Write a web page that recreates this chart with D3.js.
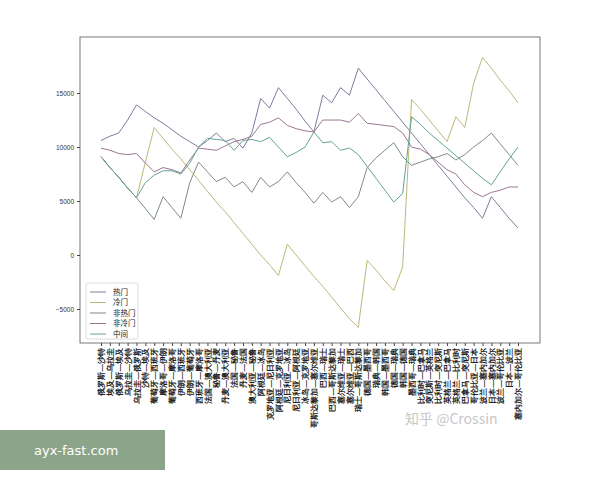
<!DOCTYPE html>
<html>
<head>
<meta charset="utf-8">
<script src="https://cdn.jsdelivr.net/npm/d3@7"></script>
<style>
  body { margin: 0; background: #fff; font-family: "Noto Sans CJK SC", "DejaVu Sans", sans-serif; }
</style>
</head>
<body>
<div id="container"></div>
<script>
var matches = ["俄罗斯—沙特", "埃及—乌拉圭", "俄罗斯—埃及", "乌拉圭—沙特", "乌拉圭—俄罗斯", "沙特—埃及",
    "葡萄牙—西班牙", "摩洛哥—伊朗", "葡萄牙—摩洛哥", "伊朗—西班牙", "伊朗—葡萄牙", "西班牙—摩洛哥",
    "法国—澳大利亚", "秘鲁—丹麦", "丹麦—澳大利亚", "法国—秘鲁", "丹麦—法国", "澳大利亚—秘鲁",
    "阿根廷—冰岛", "克罗地亚—尼日利亚", "阿根廷—克罗地亚", "尼日利亚—冰岛", "尼日利亚—阿根廷", "冰岛—克罗地亚",
    "哥斯达黎加—塞尔维亚", "巴西—瑞士", "巴西—哥斯达黎加", "塞尔维亚—瑞士", "塞尔维亚—巴西", "瑞士—哥斯达黎加",
    "德国—墨西哥", "瑞典—韩国", "韩国—墨西哥", "德国—瑞典", "韩国—德国", "墨西哥—瑞典",
    "比利时—巴拿马", "突尼斯—英格兰", "比利时—突尼斯", "英格兰—巴拿马", "英格兰—比利时", "巴拿马—突尼斯",
    "哥伦比亚—日本", "波兰—塞内加尔", "日本—塞内加尔", "波兰—哥伦比亚", "日本—波兰", "塞内加尔—哥伦比亚"];

var seriesNames = ["热门", "冷门", "非热门", "非冷门", "中间"];
var seriesColors = ["#7d7c9c", "#bdb878", "#7d8c8a", "#9c7592", "#62a397"];

var hot = [10600, 11000, 11300, 12500, 13900, 13300, 12700, 12200, 11600, 11000, 10500, 10000,
    10600, 11300, 10500, 10800, 9900, 11300, 14500, 13600, 15500, 14500, 13500, 12400,
    11400, 14800, 14100, 15500, 14800, 17300, 16300, 15300, 14300, 13300, 12300, 11300,
    10300, 9300, 8300, 7300, 6300, 5300, 4400, 3400, 5400, 4400, 3400, 2500];
var cold = [9100, 8100, 7200, 6200, 5300, 8600, 11800, 10800, 9800, 8900, 7900, 6900,
    5900, 4900, 4000, 3000, 2000, 1000, 0, -900, -1900, 1000, 0, -1000,
    -2000, -2900, -3900, -4900, -5900, -6700, -500, -1400, -2400, -3300, -1100, 14400,
    13500, 12500, 11500, 10500, 12800, 11800, 15900, 18300, 17300, 16200, 15200, 14100];
var notHot = [9100, 8100, 7200, 6200, 5300, 4300, 3300, 5400, 4400, 3400, 6700, 8600,
    7700, 6800, 7200, 6300, 6800, 5800, 7200, 6300, 6800, 7700, 6700, 5800,
    4800, 5800, 4900, 5400, 4400, 5400, 8100, 9000, 9700, 10400, 9100, 8300,
    8600, 8900, 9100, 9400, 8800, 9300, 10000, 10600, 11300, 10300, 9300, 8300];
var notCold = [9900, 9700, 9400, 9300, 9400, 8500, 7700, 8100, 7900, 7600, 8800, 9900,
    9800, 9700, 10100, 10500, 10700, 11000, 12100, 12300, 12700, 12000, 11700, 11500,
    11400, 12500, 12500, 12500, 12300, 13100, 12200, 12100, 12000, 11900, 11300, 10000,
    9800, 9300, 8600, 7900, 7500, 6500, 5800, 5400, 5800, 6000, 6300, 6300];
var middle = [9100, 8100, 7200, 6200, 5300, 6700, 7400, 7800, 7800, 7500, 8500, 10000,
    10800, 10700, 10600, 9700, 10600, 10700, 10500, 10900, 10000, 9100, 9500, 10000,
    11400, 10400, 10500, 9700, 9900, 9300, 8200, 7100, 6000, 4900, 5700, 12800,
    12100, 11300, 10600, 9900, 9200, 8500, 7800, 7100, 6500, 7700, 8900, 10000];
var yTicks = [-5000, 0, 5000, 10000, 15000];

var allSeries = [hot, cold, notHot, notCold, middle];
var width = 600, height = 480;
var plotLeft = 80, plotRight = 540, plotTop = 37, plotBottom = 343;

var svg = d3.select("#container").append("svg")
    .attr("width", width)
    .attr("height", height);

var x = d3.scalePoint().domain(matches).range([101, 518]);
var y = d3.scaleLinear().domain([-8150, 20190]).range([plotBottom, plotTop]);

// frame
svg.append("rect")
    .attr("x", plotLeft).attr("y", plotTop)
    .attr("width", plotRight - plotLeft).attr("height", plotBottom - plotTop)
    .attr("fill", "none").attr("stroke", "#555").attr("stroke-width", 0.8);

var yAxis = svg.append("g")
    .attr("transform", "translate(" + plotLeft + ",0)")
    .call(d3.axisLeft(y).tickValues(yTicks).tickSize(3).tickFormat(d3.format("d")));
yAxis.select(".domain").remove();
yAxis.selectAll("text").attr("font-size", 6.5).attr("fill", "#333");
yAxis.selectAll("line").attr("stroke", "#444");

var xAxis = svg.append("g")
    .attr("transform", "translate(0," + plotBottom + ")")
    .call(d3.axisBottom(x).tickSize(3));
xAxis.select(".domain").remove();
xAxis.selectAll("line").attr("stroke", "#444");
xAxis.selectAll("text")
    .attr("font-size", 7.5).attr("fill", "#222").attr("font-weight", "bold")
    .attr("text-anchor", "end")
    .attr("dx", 0).attr("dy", "0.35em")
    .attr("transform", "translate(0,5) rotate(-90)")
    .attr("x", 0).attr("y", 0);

var line = d3.line()
    .x(function (d, i) { return x(matches[i]); })
    .y(function (d) { return y(d); });

allSeries.forEach(function (s, k) {
    svg.append("path")
        .datum(s)
        .attr("d", line)
        .attr("fill", "none")
        .attr("stroke", seriesColors[k])
        .attr("stroke-width", 1);
});

// legend
var legend = svg.append("g").attr("transform", "translate(86,283)");
legend.append("rect")
    .attr("width", 52).attr("height", 56)
    .attr("fill", "#fff").attr("stroke", "#ddd").attr("rx", 2);
seriesNames.forEach(function (name, k) {
    var g = legend.append("g").attr("transform", "translate(0," + (9 + k * 10.5) + ")");
    g.append("line").attr("x1", 4).attr("x2", 20)
        .attr("stroke", seriesColors[k]).attr("stroke-width", 1);
    g.append("text").attr("x", 27).attr("dy", "0.35em")
        .attr("font-size", 7.5).attr("fill", "#222").text(name);
});

// watermarks
svg.append("text").attr("x", 405).attr("y", 424)
    .attr("font-size", 14).attr("fill", "#c8c8c8").text("知乎 @Crossin");
svg.append("rect").attr("x", 0).attr("y", 430).attr("width", 165).attr("height", 40)
    .attr("fill", "#8ca58a");
svg.append("text").attr("x", 34).attr("y", 455)
    .attr("font-size", 13).attr("fill", "#fff").attr("font-family", "DejaVu Sans")
    .text("ayx-fast.com");
</script>
</body>
</html>
